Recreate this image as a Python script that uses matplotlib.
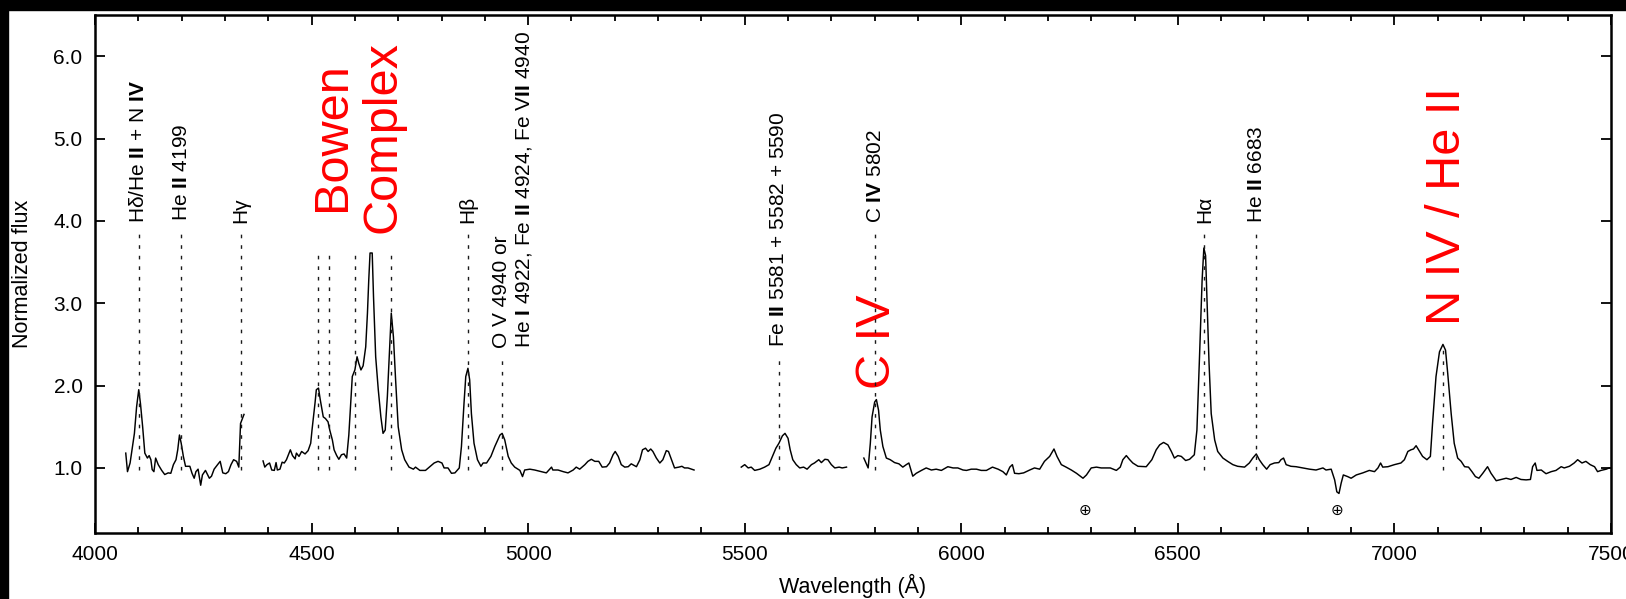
import numpy as np
import matplotlib
matplotlib.use('Agg')
import matplotlib.pyplot as plt
from matplotlib.patches import Rectangle
from matplotlib.ticker import MultipleLocator

plt.rcParams['font.family'] = ['Liberation Sans', 'DejaVu Sans']
plt.rcParams['mathtext.fontset'] = 'custom'
plt.rcParams['mathtext.rm'] = 'Liberation Sans'
plt.rcParams['mathtext.bf'] = 'Liberation Sans:bold'

# spectrum, four pieces with gaps in between
wave1 = [4071, 4075, 4081, 4091, 4096, 4101, 4105, 4110, 4115, 4121, 4125, 4129, 4132, 4136,
         4140, 4146, 4154, 4161, 4169, 4175, 4181, 4187, 4191, 4195, 4199, 4204, 4209, 4219,
         4224, 4229, 4233, 4238, 4244, 4248, 4255, 4264, 4269, 4275, 4283, 4289, 4295, 4302,
         4308, 4314, 4320, 4327, 4332, 4336, 4344]
flux1 = [1.18, 0.955, 1.06, 1.42, 1.74, 1.95, 1.78, 1.50, 1.18, 1.12, 1.15, 1.10, 0.98, 0.955,
         1.12, 1.04, 0.97, 0.92, 0.94, 0.935, 1.04, 1.10, 1.22, 1.40, 1.30, 1.14, 1.02, 1.02,
         0.935, 0.875, 0.955, 0.985, 0.79, 0.915, 0.97, 0.875, 0.90, 0.985, 1.04, 1.08, 0.94, 0.93,
         0.955, 1.04, 1.10, 1.08, 1.01, 1.54, 1.65]

wave2 = [4388, 4392, 4397, 4403, 4408, 4414, 4418, 4421, 4427, 4432, 4437, 4442, 4451, 4456,
         4462, 4465, 4471, 4477, 4485, 4492, 4498, 4501, 4508, 4511, 4516, 4520, 4527, 4532,
         4538, 4542, 4548, 4552, 4558, 4563, 4569, 4575, 4581, 4586, 4594, 4600, 4605, 4609,
         4614, 4619, 4625, 4629, 4632, 4635, 4640, 4643, 4648, 4654, 4660, 4665, 4670, 4675,
         4681, 4684, 4689, 4694, 4700, 4708, 4715, 4725, 4735, 4740, 4750, 4763, 4773, 4783,
         4792, 4801, 4806, 4815, 4823, 4831, 4841, 4846, 4852, 4856, 4861, 4865, 4869, 4875,
         4883, 4891, 4896, 4904, 4914, 4923, 4935, 4940, 4946, 4954, 4961, 4969, 4981, 4987,
         4992, 5004, 5015, 5031, 5042, 5054, 5057, 5069, 5081, 5092, 5104, 5111, 5119, 5131,
         5138, 5146, 5154, 5163, 5171, 5181, 5188, 5196, 5201, 5208, 5215, 5223, 5231, 5238,
         5250, 5258, 5264, 5271, 5277, 5283, 5288, 5296, 5304, 5311, 5319, 5324, 5331, 5338,
         5348, 5355, 5361, 5369, 5377, 5383]
flux2 = [1.085, 1.01, 1.04, 1.06, 0.975, 0.97, 1.065, 0.975, 0.985, 1.07, 1.06, 1.10, 1.22, 1.15,
         1.11, 1.18, 1.14, 1.20, 1.17, 1.21, 1.30, 1.46, 1.79, 1.95, 1.97, 1.83, 1.62, 1.60,
         1.56, 1.46, 1.34, 1.22, 1.15, 1.105, 1.16, 1.17, 1.12, 1.40, 2.11, 2.19, 2.35, 2.27,
         2.19, 2.24, 2.47, 2.88, 3.28, 3.61, 3.61, 3.08, 2.35, 1.95, 1.62, 1.42, 1.46, 1.87,
         2.55, 2.88, 2.59, 2.07, 1.50, 1.22, 1.10, 1.01, 0.985, 1.01, 0.97, 0.97, 1.015, 1.06,
         1.08, 1.06, 1.00, 1.00, 0.935, 0.94, 1.00, 1.26, 1.79, 2.11, 2.21, 2.07, 1.66, 1.30,
         1.10, 1.02, 1.06, 1.06, 1.14, 1.26, 1.40, 1.42, 1.34, 1.14, 1.06, 1.01, 0.97, 0.895,
         0.975, 0.985, 0.975, 0.955, 0.94, 1.01, 0.975, 0.975, 0.955, 0.94, 0.975, 1.01, 0.985, 1.04,
         1.08, 1.105, 1.08, 1.08, 1.01, 1.015, 1.06, 1.16, 1.20, 1.14, 1.04, 1.01, 1.015, 1.05,
         1.015, 1.10, 1.22, 1.24, 1.20, 1.23, 1.20, 1.12, 1.06, 1.10, 1.21, 1.20, 1.10, 1.00,
         1.01, 1.02, 1.00, 1.00, 0.985, 0.975]

wave3 = [5492, 5500, 5508, 5515, 5523, 5535, 5546, 5556, 5564, 5572, 5579, 5587, 5593, 5600,
         5605, 5611, 5619, 5627, 5636, 5644, 5654, 5661, 5671, 5677, 5685, 5692, 5700, 5708,
         5718, 5725, 5735]
flux3 = [1.01, 1.04, 1.00, 1.01, 0.97, 0.985, 1.01, 1.04, 1.14, 1.24, 1.30, 1.39, 1.42, 1.36,
         1.22, 1.10, 1.04, 1.00, 1.01, 0.985, 1.04, 1.06, 1.10, 1.065, 1.105, 1.10, 1.04, 1.00,
         1.01, 1.00, 1.01]

wave4 = [5775, 5785, 5790, 5794, 5800, 5804, 5809, 5813, 5819, 5827, 5836, 5846, 5856, 5865,
         5873, 5879, 5888, 5896, 5908, 5919, 5931, 5942, 5954, 5969, 5981, 5992, 6004, 6012,
         6023, 6035, 6046, 6058, 6072, 6085, 6096, 6104, 6112, 6118, 6123, 6133, 6144, 6158,
         6169, 6181, 6192, 6204, 6214, 6221, 6231, 6242, 6254, 6266, 6281, 6289, 6300, 6312,
         6323, 6331, 6344, 6358, 6367, 6373, 6381, 6388, 6396, 6408, 6427, 6440, 6450, 6458,
         6467, 6477, 6485, 6492, 6500, 6508, 6518, 6527, 6538, 6544, 6550, 6556, 6560, 6564,
         6567, 6572, 6577, 6585, 6592, 6604, 6615, 6627, 6638, 6654, 6665, 6673, 6681, 6688,
         6696, 6705, 6713, 6723, 6733, 6738, 6744, 6750, 6761, 6773, 6788, 6804, 6819, 6835,
         6842, 6854, 6862, 6867, 6872, 6877, 6882, 6892, 6900, 6912, 6927, 6942, 6954, 6962,
         6968, 6973, 6985, 7000, 7015, 7023, 7031, 7038, 7044, 7050, 7058, 7065, 7075, 7083,
         7088, 7096, 7104, 7112, 7118, 7123, 7131, 7138, 7146, 7154, 7162, 7171, 7179, 7187,
         7195, 7204, 7215, 7223, 7235, 7246, 7258, 7269, 7281, 7292, 7304, 7314, 7319, 7325,
         7329, 7339, 7350, 7362, 7373, 7385, 7392, 7404, 7415, 7423, 7433, 7442, 7452, 7462,
         7469, 7477, 7489, 7496]
flux4 = [1.12, 1.00, 1.30, 1.62, 1.80, 1.83, 1.70, 1.46, 1.26, 1.12, 1.10, 1.065, 1.05, 1.01,
         1.04, 1.06, 0.90, 0.935, 0.97, 1.00, 0.975, 0.985, 0.97, 1.015, 1.00, 1.00, 0.975, 0.97,
         0.985, 0.985, 0.97, 0.97, 1.01, 0.985, 0.955, 0.915, 1.01, 1.04, 0.935, 0.93, 0.94, 0.975,
         1.00, 0.985, 1.08, 1.14, 1.23, 1.14, 1.04, 1.01, 0.975, 0.935, 0.875, 0.915, 1.00, 1.01,
         1.00, 1.00, 1.00, 0.97, 1.01, 1.10, 1.15, 1.105, 1.06, 1.02, 1.015, 1.10, 1.22, 1.28,
         1.31, 1.28, 1.20, 1.12, 1.15, 1.14, 1.09, 1.105, 1.16, 1.46, 2.35, 3.28, 3.67, 3.58,
         3.08, 2.27, 1.66, 1.34, 1.20, 1.12, 1.08, 1.04, 1.02, 1.01, 1.06, 1.12, 1.17, 1.10,
         1.04, 0.985, 1.04, 1.06, 1.065, 1.10, 1.12, 1.04, 1.02, 1.015, 1.00, 0.985, 0.975, 1.00,
         0.975, 0.985, 0.855, 0.71, 0.69, 0.815, 0.915, 0.895, 0.875, 0.915, 0.94, 0.97, 0.955, 1.00,
         1.06, 1.01, 1.015, 1.04, 1.06, 1.10, 1.20, 1.22, 1.23, 1.27, 1.20, 1.14, 1.10, 1.14,
         1.54, 2.11, 2.41, 2.50, 2.43, 2.15, 1.66, 1.30, 1.12, 1.08, 1.015, 1.01, 0.955, 0.895,
         0.875, 0.935, 1.015, 0.935, 0.845, 0.86, 0.875, 0.86, 0.885, 0.86, 0.855, 0.86, 1.015, 1.06,
         0.97, 0.975, 0.93, 0.955, 0.97, 1.015, 1.00, 1.02, 1.06, 1.10, 1.06, 1.08, 1.04, 1.015,
         0.955, 0.97, 0.985, 1.00]

# marked lines: position and top of the dotted marker
line_wave = [4101, 4199, 4336, 4514, 4540, 4601, 4684, 4860, 4939, 5579, 5801, 6561, 6681, 7113]
line_top = [3.89, 3.89, 3.89, 3.61, 3.61, 3.61, 3.61, 3.89, 2.35, 2.35, 3.89, 3.89, 3.89, 2.43]

# black labels (x, y of text start, text)
lab_x = [4101, 4199, 4336, 4860, 4938, 4990, 5579, 5801, 6561, 6681]
lab_y = [3.98, 4.0, 3.98, 3.97, 2.46, 2.46, 2.47, 3.97, 3.97, 3.97]
lab_text = [r'Hδ/He $\mathbf{II}$ + N $\mathbf{IV}$',
            r'He $\mathbf{II}$ 4199',
            'Hγ',
            'Hβ',
            'O V 4940 or',
            r'He $\mathbf{I}$ 4922, Fe $\mathbf{II}$ 4924, Fe V$\mathbf{II}$ 4940',
            r'Fe $\mathbf{II}$ 5581 + 5582 + 5590',
            r'C $\mathbf{IV}$ 5802',
            'Hα',
            r'He $\mathbf{II}$ 6683']

# big red labels
red_x = [4606, 5807, 7123]
red_y = [5.02, 2.53, 4.18]
red_text = ['Bowen\nComplex', 'C IV', 'N IV / He II']

# telluric marks
tell_x = [6286, 6868]
tell_y = [0.49, 0.49]

fig = plt.figure(figsize=(16.26, 5.99), dpi=100)
ax = fig.add_axes([95/1626, 1-533/599, 1516/1626, 518/599])

for w, f in [(wave1, flux1), (wave2, flux2), (wave3, flux3), (wave4, flux4)]:
    ax.plot(w, f, color='black', lw=1.05, zorder=3)

for w, t in zip(line_wave, line_top):
    ax.plot([w, w], [0.98, t], color='0.1', lw=1.0, dashes=(2.6, 5.0), zorder=4)

for x, y, s in zip(lab_x, lab_y, lab_text):
    ax.text(x, y, s, rotation=90, ha='center', va='bottom', fontsize=15)

for x, y, s in zip(red_x, red_y, red_text):
    ax.text(x, y, s, rotation=90, ha='center', va='center', fontsize=35,
            color='red', linespacing=1.15, multialignment='center', zorder=2)

for x, y in zip(tell_x, tell_y):
    ax.text(x, y, '⊕', ha='center', va='center', fontsize=11, family='DejaVu Sans')

ax.set_xlim(4000, 7500)
ax.set_ylim(0.21, 6.5)
ax.xaxis.set_major_locator(MultipleLocator(500))
ax.xaxis.set_minor_locator(MultipleLocator(100))
ax.set_yticks([1, 2, 3, 4, 5, 6])
ax.set_yticklabels(['1.0', '2.0', '3.0', '4.0', '5.0', '6.0'])
ax.tick_params(which='both', direction='in', top=True, right=True, width=1.3, labelsize=15)
ax.tick_params(which='major', length=7)
ax.tick_params(which='minor', length=4)
ax.tick_params(axis='x', pad=9)
ax.tick_params(axis='y', pad=9)
for sp in ax.spines.values():
    sp.set_linewidth(1.8)

ax.set_xlabel('Wavelength (Å)', fontsize=15.5, labelpad=7)
ax.set_ylabel('Normalized flux', fontsize=15.5)
ax.yaxis.set_label_coords(-0.041, 0.5)

# black frame pieces along the top and left edges
fig.patches.append(Rectangle((0, 1-10/599), 1, 10/599, transform=fig.transFigure,
                             color='black', zorder=10))
fig.patches.append(Rectangle((0, 0), 8/1626, 1, transform=fig.transFigure,
                             color='black', zorder=10))

fig.savefig('out.png', dpi=100)
